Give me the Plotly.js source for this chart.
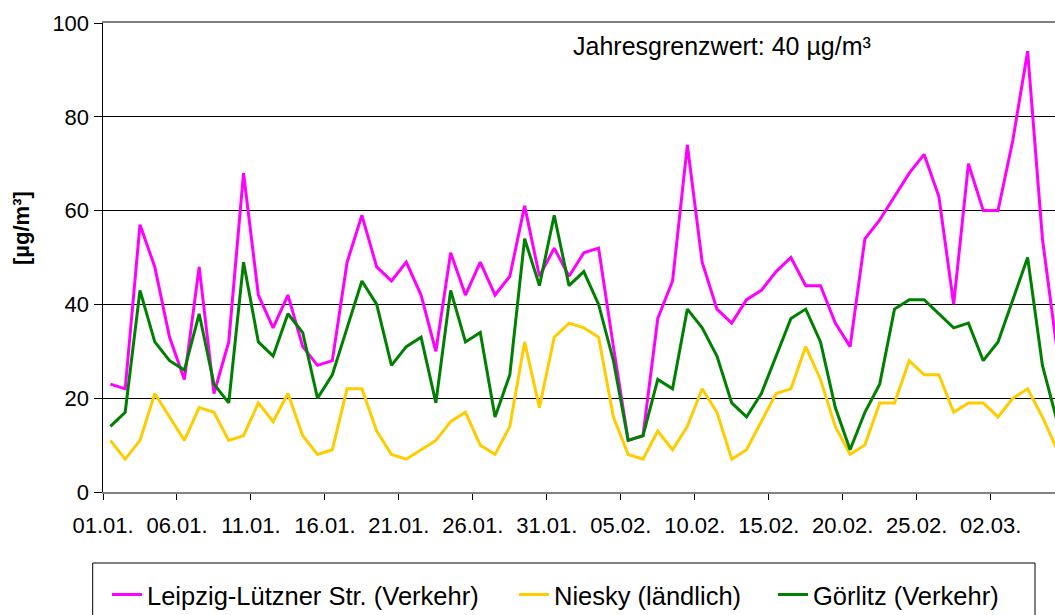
<!DOCTYPE html>
<html>
<head>
<meta charset="utf-8">
<script src="https://cdn.plot.ly/plotly-3.0.1.min.js"></script>
<style>
html,body{margin:0;padding:0;background:#fff;}
#chart{width:1055px;height:615px;}
</style>
</head>
<body>
<div id="chart"></div>
<script>
// Daily mean values (µg/m³), from 01.01. onward, one value per day
var seriesNames = ['Leipzig-Lützner Str. (Verkehr)', 'Niesky (ländlich)', 'Görlitz (Verkehr)'];
var seriesColors = ['#FF00FF', '#FFCC00', '#008000'];

var leipzig = [23,22,57,48,33,24,48,21,32,68,42,35,42,31,27,28,49,59,48,45,49,42,30,51,42,49,42,46,61,46,52,46,51,52,31,11,12,37,45,74,49,39,36,41,43,47,50,44,44,36,31,54,58,63,68,72,63,40,70,60,60,75,94,54,30];
var niesky  = [11,7,11,21,16,11,18,17,11,12,19,15,21,12,8,9,22,22,13,8,7,9,11,15,17,10,8,14,32,18,33,36,35,33,16,8,7,13,9,14,22,17,7,9,15,21,22,31,24,14,8,10,19,19,28,25,25,17,19,19,16,20,22,16,9];
var goerlitz = [14,17,43,32,28,26,38,23,19,49,32,29,38,34,20,25,35,45,40,27,31,33,19,43,32,34,16,25,54,44,59,44,47,40,28,11,12,24,22,39,35,29,19,16,21,29,37,39,32,18,9,17,23,39,41,41,38,35,36,28,32,41,50,27,15];

var tickLabels = ['01.01.','06.01.','11.01.','16.01.','21.01.','26.01.','31.01.','05.02.','10.02.','15.02.','20.02.','25.02.','02.03.'];
var yTicks = [0,20,40,60,80,100];

// dates: each value sits in the middle of its day
function dayDate(i){
  var d = new Date(Date.UTC(2007,0,1) + i*86400000 + 12*3600000);
  return d.toISOString().slice(0,19).replace('T',' ');
}
function labelToDate(lbl){
  var p = lbl.split('.');
  return '2007-' + p[1] + '-' + p[0];
}
var xDates = leipzig.map(function(_, i){ return dayDate(i); });
var tickVals = tickLabels.map(labelToDate);

var FONT = 'Liberation Sans, Arial, Helvetica, sans-serif';
var allSeries = [leipzig, niesky, goerlitz];
var legendIds = ['legend','legend2','legend3'];

var traces = allSeries.map(function(vals, k){
  return {
    type: 'scatter', mode: 'lines',
    x: xDates, y: vals,
    name: seriesNames[k],
    line: {color: seriesColors[k], width: 3},
    legend: legendIds[k],
    hoverinfo: 'skip'
  };
});

function legendAt(xp){
  return {
    orientation: 'h', xref: 'container', yref: 'container',
    x: xp, xanchor: 'left', y: 0.0325, yanchor: 'middle',
    bgcolor: 'rgba(0,0,0,0)', borderwidth: 0,
    font: {family: FONT, size: 25.5, color: '#000'},
    itemclick: false, itemdoubleclick: false
  };
}

var layout = {
  width: 1055, height: 615, autosize: false,
  margin: {l: 103, r: 0, t: 23, b: 123, pad: 0},
  paper_bgcolor: '#fff', plot_bgcolor: '#fff',
  showlegend: true,
  font: {family: FONT, color: '#000'},
  xaxis: {
    type: 'date',
    range: ['2007-01-01 00:00', '2007-03-06 08:24'],
    tickmode: 'array', tickvals: tickVals, ticktext: tickLabels,
    ticks: 'outside', ticklen: 6, tickwidth: 1, tickcolor: '#000',
    ticklabelstandoff: 7,
    tickfont: {family: FONT, size: 22, color: '#000'},
    showgrid: false, zeroline: false,
    showline: true, linecolor: '#808080', linewidth: 2, mirror: true,
    fixedrange: true
  },
  yaxis: {
    range: [0, 100],
    tickmode: 'array', tickvals: yTicks,
    ticks: 'outside', ticklen: 8, tickwidth: 1, tickcolor: '#000',
    tickfont: {family: FONT, size: 22, color: '#000'},
    showgrid: true, gridcolor: '#000', gridwidth: 1,
    zeroline: false,
    showline: true, linecolor: '#000', linewidth: 1.5,
    fixedrange: true
  },
  legend: legendAt(107/1055),
  legend2: legendAt(514/1055),
  legend3: legendAt(773/1055),
  shapes: [{
    type: 'rect', xref: 'paper', yref: 'paper',
    x0: -0.0108, x1: 0.9790, y0: -0.2942, y1: -0.1514,
    line: {color: '#000', width: 1}, fillcolor: 'rgba(0,0,0,0)', layer: 'above'
  }],
  annotations: [
    {
      xref: 'paper', yref: 'paper', x: 0.4913, y: 0.951,
      xanchor: 'left', yanchor: 'middle', showarrow: false,
      text: 'Jahresgrenzwert: 40 µg/m³',
      font: {family: FONT, size: 25, color: '#000'}
    },
    {
      xref: 'paper', yref: 'paper', x: -0.0851, y: 0.5629,
      xanchor: 'center', yanchor: 'middle', showarrow: false,
      textangle: -90,
      text: '<b>[µg/m³]</b>',
      font: {family: FONT, size: 22, color: '#000'}
    }
  ]
};

Plotly.newPlot('chart', traces, layout, {displayModeBar: false, staticPlot: true});
</script>
</body>
</html>
